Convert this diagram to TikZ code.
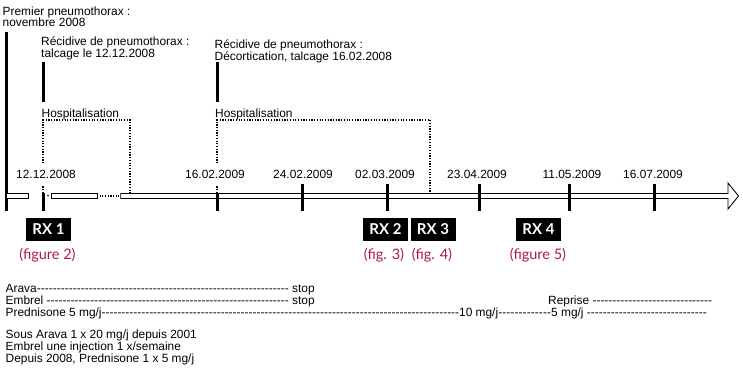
\documentclass[tikz,border=0pt]{standalone}
\usepackage{fontspec}
\setmainfont{Liberation Sans}
\newfontfamily\rxfont{Lato}
\definecolor{figred}{RGB}{175,25,70}
\begin{document}
\begin{tikzpicture}[x=1pt,y=-1pt,
 every node/.style={inner sep=0pt},
 txt/.style={anchor=base west,font=\fontsize{11.9}{12}\selectfont},
 datelbl/.style={anchor=base,font=\fontsize{11.9}{12}\selectfont,fill=white,text height=13pt,text depth=7pt,inner xsep=1pt},
 bar/.style={line width=3pt},
 tickbar/.style={line width=3pt},
 dots/.style={line width=1.7pt,dash pattern=on 1.2pt off 1.5pt},
 axisbox/.style={draw=black,line width=0.9pt,fill=white},
 rx/.style={fill=black,text=white,font=\rxfont\bfseries\fontsize{15}{15}\selectfont,minimum width=45pt,minimum height=23pt},
 figcap/.style={text=figred,font=\rxfont\fontsize{14.5}{14.5}\selectfont,anchor=center}
]
\useasboundingbox (0,0) rectangle (743,381);

% top labels
\node[txt] (prem1) at (2.5,15.7) {Premier pneumothorax :};
\node[txt] (prem2) at (2.5,26.7) {novembre 2008};
\node[txt] (rec1a) at (41,45.7) {Récidive de pneumothorax :};
\node[txt] (rec1b) at (41,57.7) {talcage le 12.12.2008};
\node[txt] (rec2a) at (214.5,48) {Récidive de pneumothorax :};
\node[txt] (rec2b) at (214.5,60.5) {Décortication, talcage 16.02.2008};
\node[txt] (hosp1) at (41.5,117) {Hospitalisation};
\node[txt] (hosp2) at (215,117.3) {Hospitalisation};

% vertical bars
\draw[bar] (6,32) -- (6,211);
\draw[bar] (43,62) -- (43,102);
\draw[bar] (217,62) -- (217,102);

% hospitalisation dotted frames
\draw[dots] (43,193) -- (43,120) -- (130,120) -- (130,193);
\draw[dots] (217,193) -- (217,120) -- (430,120) -- (430,193);

% dates
\node[datelbl] (d1) at (46,178) {12.12.2008};
\node[datelbl] (d2) at (215,178) {16.02.2009};
\node[datelbl] (d3) at (303,178) {24.02.2009};
\node[datelbl] (d4) at (385,178) {02.03.2009};
\node[datelbl] (d5) at (477,178) {23.04.2009};
\node[datelbl] (d6) at (572,178) {11.05.2009};
\node[datelbl] (d7) at (653,178) {16.07.2009};

% axis
\draw[axisbox] (6.5,193.5) rectangle (28,198.5);
\draw[axisbox] (51.7,193.5) rectangle (97.3,198.5);
\draw[axisbox] (120.7,193.5) -- (728,193.5) -- (728,183) -- (738.5,196) -- (728,209) -- (728,198.5) -- (120.7,198.5) -- cycle;
\draw[dots] (99.5,196) -- (119,196);
\fill (48,195.5) circle (0.8);

% ticks
\foreach \x in {302,387,479,569,654} \draw[tickbar] (\x,184) -- (\x,210.5);
\draw[tickbar] (43,193) -- (43,210.5);
\draw[tickbar] (217,193) -- (217,210.5);

% RX boxes
\node[rx] (rx1) at (48.5,229.5) {RX 1};
\node[rx] (rx2) at (385.5,229.5) {RX 2};
\node[rx] (rx3) at (433,229.5) {RX 3};
\node[rx] (rx4) at (538.5,229.5) {RX 4};
\node[figcap] (f1) at (47.5,255) {(figure 2)};
\node[figcap] (f2) at (384,255) {(fig. 3)};
\node[figcap] (f3) at (432,255) {(fig. 4)};
\node[figcap] (f4) at (538,255) {(figure 5)};

% treatments
\node[txt] (arava) at (5.5,292) {\hbox to 309pt{Arava\xleaders\hbox{-}\hfill\ stop}};
\node[txt] (embrel) at (5.5,304.5) {\hbox to 309pt{Embrel \xleaders\hbox{-}\hfill\ stop}};
\node[txt] (reprise) at (548,304.5) {\hbox to 164pt{Reprise \xleaders\hbox{-}\hfill}};
\node[txt] (pred) at (5.5,316.7) {\hbox to 453.5pt{Prednisone 5 mg/j\xleaders\hbox{-}\hfill}10 mg/j\hbox to 53pt{\xleaders\hbox{-}\hfill}5 mg/j \hbox to 120pt{\xleaders\hbox{-}\hfill}};
\node[txt] (sous) at (5.5,338.3) {Sous Arava 1 x 20 mg/j depuis 2001};
\node[txt] (inj) at (5.5,350.5) {Embrel une injection 1 x/semaine};
\node[txt] (dep) at (5.5,362.5) {Depuis 2008, Prednisone 1 x 5 mg/j};
\end{tikzpicture}
\end{document}
